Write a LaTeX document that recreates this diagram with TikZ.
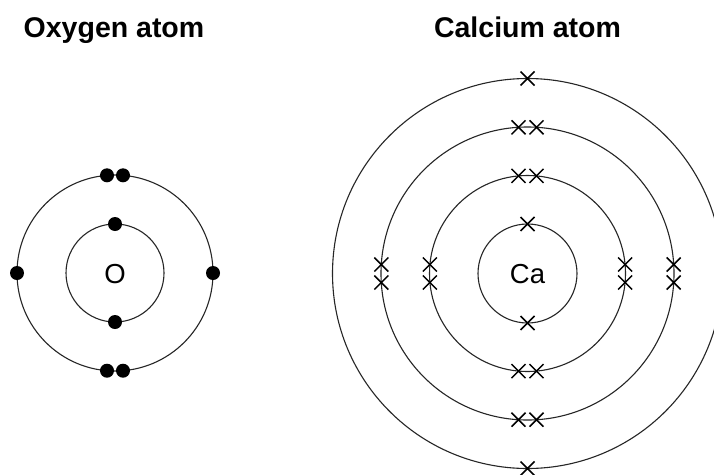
\documentclass[tikz,border=0pt]{standalone}
\usepackage{fontspec}
\setmainfont{Liberation Sans}
\usetikzlibrary{shapes.misc,calc}
\begin{document}
\begin{tikzpicture}[x=1pt,y=-1pt,
  shell/.style={circle,draw=black!85,line width=1.1pt,inner sep=0pt,minimum size=#1},
  dotel/.style={circle,fill=black,inner sep=0pt,minimum size=14pt},
  crossel/.style={cross out,draw=black,line width=1.5pt,inner sep=0pt,minimum size=12.5pt},
  title/.style={font=\fontsize{28.5}{30}\selectfont\bfseries,anchor=base,inner sep=0pt},
  nucleus/.style={font=\fontsize{27.5}{29}\selectfont,inner sep=0pt}]
\useasboundingbox (0,0) rectangle (714,474);
\fill[white] (0,0) rectangle (714,474);
% titles
\node[title] (tO) at (114,37.3) {Oxygen atom};
\node[title] (tCa) at (527.5,37.3) {Calcium atom};
% Oxygen atom
\coordinate (Oc) at (115,273);
\node[shell=98pt] (o1) at (Oc) {};
\node[shell=196pt] (o2) at (Oc) {};
\node[nucleus] (Olab) at ($(Oc)+(0,1)$) {O};
\node[dotel] (od1) at ($(Oc)+(0,-49)$) {};
\node[dotel] (od2) at ($(Oc)+(0,49)$) {};
\node[dotel] (od3) at ($(Oc)+(-8,-97.7)$) {};
\node[dotel] (od4) at ($(Oc)+(8,-97.7)$) {};
\node[dotel] (od5) at ($(Oc)+(-8,97.7)$) {};
\node[dotel] (od6) at ($(Oc)+(8,97.7)$) {};
\node[dotel] (od7) at ($(Oc)+(-98,0)$) {};
\node[dotel] (od8) at ($(Oc)+(98,0)$) {};
% Calcium atom
\coordinate (Cc) at (527.5,273.5);
\node[shell=99pt] (c1) at (Cc) {};
\node[shell=196pt] (c2) at (Cc) {};
\node[shell=293pt] (c3) at (Cc) {};
\node[shell=390pt] (c4) at (Cc) {};
\node[nucleus] (Calab) at ($(Cc)+(0,1)$) {Ca};
% shell 1
\node[crossel] (x11) at ($(Cc)+(0,-49.5)$) {};
\node[crossel] (x12) at ($(Cc)+(0,49.5)$) {};
% shell 2
\node[crossel] (x21) at ($(Cc)+(-9,-97.6)$) {};
\node[crossel] (x22) at ($(Cc)+(9,-97.6)$) {};
\node[crossel] (x23) at ($(Cc)+(-9,97.6)$) {};
\node[crossel] (x24) at ($(Cc)+(9,97.6)$) {};
\node[crossel] (x25) at ($(Cc)+(-97.6,-9)$) {};
\node[crossel] (x26) at ($(Cc)+(-97.6,9)$) {};
\node[crossel] (x27) at ($(Cc)+(97.6,-9)$) {};
\node[crossel] (x28) at ($(Cc)+(97.6,9)$) {};
% shell 3
\node[crossel] (x31) at ($(Cc)+(-9,-146.2)$) {};
\node[crossel] (x32) at ($(Cc)+(9,-146.2)$) {};
\node[crossel] (x33) at ($(Cc)+(-9,146.2)$) {};
\node[crossel] (x34) at ($(Cc)+(9,146.2)$) {};
\node[crossel] (x35) at ($(Cc)+(-146.2,-9)$) {};
\node[crossel] (x36) at ($(Cc)+(-146.2,9)$) {};
\node[crossel] (x37) at ($(Cc)+(146.2,-9)$) {};
\node[crossel] (x38) at ($(Cc)+(146.2,9)$) {};
% shell 4
\node[crossel] (x41) at ($(Cc)+(0,-195)$) {};
\node[crossel] (x42) at ($(Cc)+(0,195)$) {};
\end{tikzpicture}
\end{document}
